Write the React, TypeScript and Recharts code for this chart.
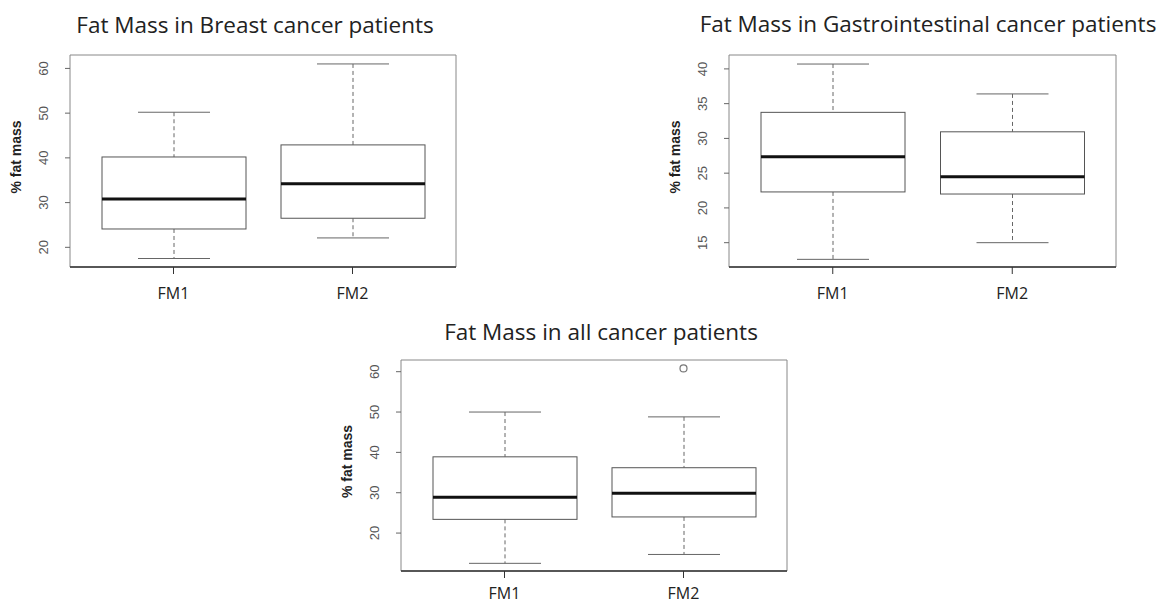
import React from "react";
import {
  ComposedChart,
  Bar,
  Scatter,
  XAxis,
  YAxis,
  CartesianGrid,
} from "recharts";

// box plot stats (% fat mass)
const categories = ["FM1", "FM2"];

const breastLow = [17.5, 22.1];
const breastQ1 = [24.1, 26.5];
const breastMedian = [30.8, 34.2];
const breastQ3 = [40.2, 42.9];
const breastHigh = [50.2, 61.0];
const breastTicks = [20, 30, 40, 50, 60];
const breastDomain = [15.6, 63.0];

const giLow = [12.6, 15.0];
const giQ1 = [22.3, 22.0];
const giMedian = [27.35, 24.5];
const giQ3 = [33.75, 30.95];
const giHigh = [40.7, 36.4];
const giTicks = [15, 20, 25, 30, 35, 40];
const giDomain = [11.5, 42.0];

const allLow = [12.5, 14.7];
const allQ1 = [23.4, 24.0];
const allMedian = [28.9, 29.9];
const allQ3 = [38.9, 36.2];
const allHigh = [50.0, 48.8];
const allOutliers = [null, 60.8];
const allTicks = [20, 30, 40, 50, 60];
const allDomain = [10.6, 62.9];

const TICK_FONT = "'Liberation Sans', Arial, sans-serif";
const TEXT_FONT = "'Open Sans', 'Noto Sans', sans-serif";

function buildRows(low: number[], q1: number[], med: number[], q3: number[], high: number[], out?: (number | null)[]) {
  return categories.map((name, i) => ({
    name,
    range: [low[i], high[i]],
    low: low[i],
    q1: q1[i],
    median: med[i],
    q3: q3[i],
    high: high[i],
    outlier: out ? out[i] : null,
  }));
}

function BoxShape(props: any) {
  const { x, y, width, height, payload } = props;
  if (!payload || height == null) return null;
  const { low, high, q1, q3, median } = payload;
  const top = Math.min(y, y + height);
  const h = Math.abs(height);
  const py = (v: number) => top + ((high - v) / (high - low)) * h;
  const cx = x + width / 2;
  const cap = width / 4;
  return (
    <g>
      <line x1={cx} x2={cx} y1={py(high)} y2={py(q3)} stroke="#666" strokeDasharray="4 3" />
      <line x1={cx} x2={cx} y1={py(q1)} y2={py(low)} stroke="#666" strokeDasharray="4 3" />
      <line x1={cx - cap} x2={cx + cap} y1={py(high)} y2={py(high)} stroke="#666" />
      <line x1={cx - cap} x2={cx + cap} y1={py(low)} y2={py(low)} stroke="#666" />
      <rect x={x} y={py(q3)} width={width} height={py(q1) - py(q3)} fill="#fff" stroke="#555" />
      <line x1={x} x2={x + width} y1={py(median)} y2={py(median)} stroke="#111" strokeWidth={3} />
    </g>
  );
}

function OutlierDot(props: any) {
  const { cx, cy } = props;
  if (cx == null || cy == null || isNaN(cy)) return null;
  return <circle cx={cx} cy={cy} r={3.5} fill="none" stroke="#777" strokeWidth={1.2} />;
}

function YTick(props: any) {
  const { x, y, payload } = props;
  const cx = x - 21;
  return (
    <text
      x={cx}
      y={y}
      transform={`rotate(-90 ${cx} ${y})`}
      textAnchor="middle"
      dominantBaseline="central"
      fontFamily={TICK_FONT}
      fontSize={13}
      fill="#555"
    >
      {payload.value}
    </text>
  );
}

function XTick(props: any) {
  const { x, y, payload, dy } = props;
  return (
    <text x={x} y={y + dy} textAnchor="middle" fontFamily={TEXT_FONT} fontSize={16} fill="#222">
      {payload.value}
    </text>
  );
}

function YTitle(props: any) {
  const vb = props.viewBox || props;
  const cx = vb.x + vb.width - 54;
  const cy = vb.y + vb.height / 2 - 4;
  return (
    <text
      x={cx}
      y={cy}
      transform={`rotate(-90 ${cx} ${cy})`}
      textAnchor="middle"
      dominantBaseline="central"
      fontFamily={TICK_FONT}
      fontWeight="bold"
      fontSize={14}
      fill="#222"
    >
      % fat mass
    </text>
  );
}

function BoxPanel({ rows, ticks, domain, left, top, plotW, plotH, pad, labelDy }: any) {
  return (
    <div style={{ position: "absolute", left, top }}>
      <ComposedChart
        width={plotW + 85}
        height={plotH + 100}
        data={rows}
        margin={{ top: 55, right: 15, bottom: 0, left: 0 }}
      >
        <CartesianGrid
          stroke="#888"
          horizontalCoordinatesGenerator={(p: any) => [p.offset.top, p.offset.top + p.offset.height]}
          verticalCoordinatesGenerator={(p: any) => [p.offset.left, p.offset.left + p.offset.width]}
        />
        <XAxis
          dataKey="name"
          type="category"
          allowDuplicatedCategory={false}
          padding={{ left: pad, right: pad }}
          height={45}
          tickSize={7}
          tickMargin={2}
          axisLine={{ stroke: "#333", strokeWidth: 1.5 }}
          tickLine={{ stroke: "#333" }}
          tick={(p: any) => <XTick {...p} dy={labelDy} />}
        />
        <YAxis
          type="number"
          domain={domain}
          ticks={ticks}
          allowDataOverflow
          width={70}
          tickSize={5}
          tickMargin={0}
          axisLine={false}
          tickLine={{ stroke: "#666" }}
          tick={(p: any) => <YTick {...p} />}
          label={<YTitle />}
        />
        <Bar dataKey="range" barSize={144} isAnimationActive={false} shape={(p: any) => <BoxShape {...p} />} />
        <Scatter dataKey="outlier" isAnimationActive={false} shape={(p: any) => <OutlierDot {...p} />} />
      </ComposedChart>
    </div>
  );
}

const breastRows = buildRows(breastLow, breastQ1, breastMedian, breastQ3, breastHigh);
const giRows = buildRows(giLow, giQ1, giMedian, giQ3, giHigh);
const allRows = buildRows(allLow, allQ1, allMedian, allQ3, allHigh, allOutliers);

export default function App() {
  const titleStyle = { fontFamily: TEXT_FONT, fontSize: 22.5, fill: "#222" };
  return (
    <div
      style={{
        position: "absolute",
        left: 0,
        top: 0,
        width: 1161,
        height: 605,
        background: "#fff",
        overflow: "hidden",
      }}
    >
      <BoxPanel rows={breastRows} ticks={breastTicks} domain={breastDomain} left={0} top={0} plotW={386} plotH={212} pad={14} labelDy={23} />
      <BoxPanel rows={giRows} ticks={giTicks} domain={giDomain} left={659} top={0} plotW={387} plotH={212} pad={14} labelDy={23} />
      <BoxPanel rows={allRows} ticks={allTicks} domain={allDomain} left={331} top={305} plotW={386} plotH={211} pad={14} labelDy={19} />
      <svg width={1161} height={605} style={{ position: "absolute", left: 0, top: 0, pointerEvents: "none" }}>
        <text x={255} y={33} textAnchor="middle" {...titleStyle}>
          Fat Mass in Breast cancer patients
        </text>
        <text x={928} y={32} textAnchor="middle" {...titleStyle}>
          Fat Mass in Gastrointestinal cancer patients
        </text>
        <text x={601} y={340} textAnchor="middle" {...titleStyle}>
          Fat Mass in all cancer patients
        </text>
      </svg>
    </div>
  );
}
